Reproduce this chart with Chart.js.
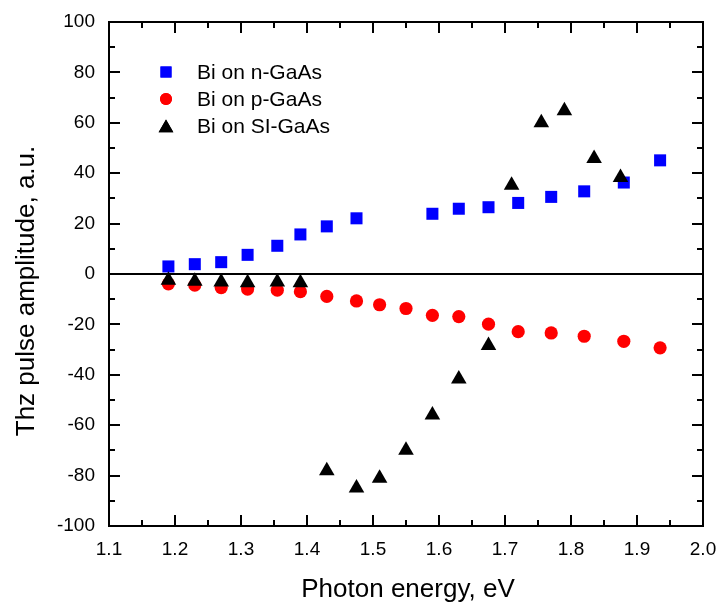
<!DOCTYPE html>
<html>
<head>
<meta charset="utf-8">
<script src="https://cdn.jsdelivr.net/npm/chart.js@4"></script>
<style>
  html, body { margin: 0; padding: 0; background: #fff; }
  #wrap { width: 717px; height: 603px; }
</style>
</head>
<body>
<div id="wrap"><canvas id="myChart" width="717" height="603"></canvas></div>
<script>
// photon energy (eV) and THz amplitude (a.u.)
const energyN = [1.19, 1.23, 1.27, 1.31, 1.355, 1.39, 1.43, 1.475, 1.59, 1.63, 1.675, 1.72, 1.77, 1.82, 1.88, 1.935];
const ampN = [3.0, 3.9, 4.7, 7.6, 11.2, 15.7, 18.9, 22.1, 23.9, 25.9, 26.5, 28.2, 30.6, 32.8, 36.3, 45.1];

const energyP = [1.19, 1.23, 1.27, 1.31, 1.355, 1.39, 1.43, 1.475, 1.51, 1.55, 1.59, 1.63, 1.675, 1.72, 1.77, 1.82, 1.88, 1.935];
const ampP = [-3.9, -4.4, -5.4, -6.0, -6.4, -7.0, -8.9, -10.7, -12.2, -13.7, -16.4, -16.9, -19.9, -22.9, -23.4, -24.7, -26.7, -29.3];

const energySI = [1.19, 1.23, 1.27, 1.31, 1.355, 1.39, 1.43, 1.475, 1.51, 1.55, 1.59, 1.63, 1.675, 1.71, 1.755, 1.79, 1.835, 1.875];
const ampSI = [-2.5, -2.9, -3.2, -3.5, -3.2, -3.5, -78.1, -84.9, -81.1, -69.9, -56.0, -41.7, -28.4, 35.2, 60.0, 64.8, 45.8, 38.3];

const seriesNames = ['Bi on n-GaAs', 'Bi on p-GaAs', 'Bi on SI-GaAs'];
const xTitle = 'Photon energy, eV';
const yTitle = 'Thz pulse amplitude, a.u.';

const FONT = '"Liberation Sans", Arial, sans-serif';

function pts(xs, ys) {
  return xs.map((x, i) => ({ x: x, y: ys[i] }));
}

// frame, inward ticks, axis titles and legend
const framePlugin = {
  id: 'frame',
  afterDraw(chart) {
    const ctx = chart.ctx;
    const a = chart.chartArea;
    const xs = chart.scales.x, ys = chart.scales.y;
    ctx.save();
    ctx.strokeStyle = '#000';
    ctx.lineWidth = 2;
    ctx.strokeRect(a.left, a.top, a.right - a.left, a.bottom - a.top);

    // x ticks every 0.05, major every 0.1
    for (let i = 0; i <= 18; i++) {
      const v = 1.1 + i * 0.05;
      const px = Math.round(xs.getPixelForValue(v));
      const len = i % 2 === 0 ? 11 : 6;
      ctx.beginPath();
      ctx.moveTo(px, a.bottom); ctx.lineTo(px, a.bottom - len);
      ctx.moveTo(px, a.top); ctx.lineTo(px, a.top + len);
      ctx.stroke();
    }
    // y ticks every 10, major every 20
    for (let i = 0; i <= 20; i++) {
      const v = -100 + i * 10;
      const py = Math.round(ys.getPixelForValue(v));
      const len = i % 2 === 0 ? 11 : 6;
      ctx.beginPath();
      ctx.moveTo(a.left, py); ctx.lineTo(a.left + len, py);
      ctx.moveTo(a.right, py); ctx.lineTo(a.right - len, py);
      ctx.stroke();
    }

    ctx.fillStyle = '#000';
    ctx.font = '26px ' + FONT;
    ctx.textAlign = 'center';
    ctx.textBaseline = 'alphabetic';
    ctx.fillText(xTitle, 408, 597);

    ctx.save();
    ctx.translate(34, 291);
    ctx.rotate(-Math.PI / 2);
    ctx.fillText(yTitle, 0, 0);
    ctx.restore();

    // legend
    ctx.font = '21px ' + FONT;
    ctx.textAlign = 'left';
    ctx.textBaseline = 'middle';
    const rows = [72, 99, 126];
    chart.data.datasets.forEach((ds, i) => {
      ctx.fillStyle = ds.pointBackgroundColor;
      Chart.helpers.drawPoint(ctx, {
        pointStyle: ds.pointStyle,
        radius: ds.legendRadius,
        borderWidth: 0,
        rotation: 0
      }, 166, ds.pointStyle === 'triangle' ? rows[i] + 2 : rows[i]);
      ctx.fill();
      ctx.fillStyle = '#000';
      ctx.fillText(ds.label, 197, rows[i] + 1);
    });
    ctx.restore();
  }
};

const ctx = document.getElementById('myChart').getContext('2d');
const config = {
  type: 'scatter',
  data: {
    datasets: [{
      label: seriesNames[0],
      data: pts(energyN, ampN),
      pointStyle: 'rect',
      pointRadius: 8.5,
      legendRadius: 7.8,
      pointBackgroundColor: '#0000ff',
      pointBorderWidth: 0,
      order: 3
    }, {
      label: seriesNames[1],
      data: pts(energyP, ampP),
      pointStyle: 'circle',
      pointRadius: 6.6,
      legendRadius: 6,
      pointBackgroundColor: '#ff0000',
      pointBorderWidth: 0,
      order: 2
    }, {
      label: seriesNames[2],
      data: pts(energySI, ampSI),
      pointStyle: 'triangle',
      pointRadius: 9,
      legendRadius: 8.5,
      pointBackgroundColor: '#000000',
      pointBorderWidth: 0,
      order: 1
    }]
  },
  options: {
    responsive: false,
    animation: false,
    layout: { padding: { left: 0, top: 22, right: 14, bottom: 0 } },
    plugins: {
      legend: { display: false },
      tooltip: { enabled: false }
    },
    scales: {
      x: {
        type: 'linear',
        min: 1.1,
        max: 2.0,
        afterFit: s => { s.height = 77; s.paddingLeft = 0; s.paddingRight = 0; },
        afterBuildTicks: s => {
          s.ticks = [];
          for (let i = 0; i <= 9; i++) s.ticks.push({ value: +(1.1 + i * 0.1).toFixed(1) });
        },
        ticks: {
          color: '#000',
          font: { family: FONT, size: 19 },
          padding: 12,
          maxRotation: 0,
          callback: v => Number(v).toFixed(1)
        },
        grid: { display: false, drawTicks: false },
        border: { display: false }
      },
      y: {
        min: -100,
        max: 100,
        afterFit: s => { s.width = 109; s.paddingTop = 0; s.paddingBottom = 0; },
        ticks: {
          stepSize: 20,
          color: '#000',
          font: { family: FONT, size: 19 },
          padding: 14
        },
        grid: {
          drawTicks: false,
          lineWidth: 2,
          color: c => (c.tick && c.tick.value === 0 ? '#000' : 'rgba(0,0,0,0)')
        },
        border: { display: false }
      }
    }
  },
  plugins: [framePlugin]
};

//DRAW CHART
var myChart = new Chart(ctx, config);
</script>
</body>
</html>
